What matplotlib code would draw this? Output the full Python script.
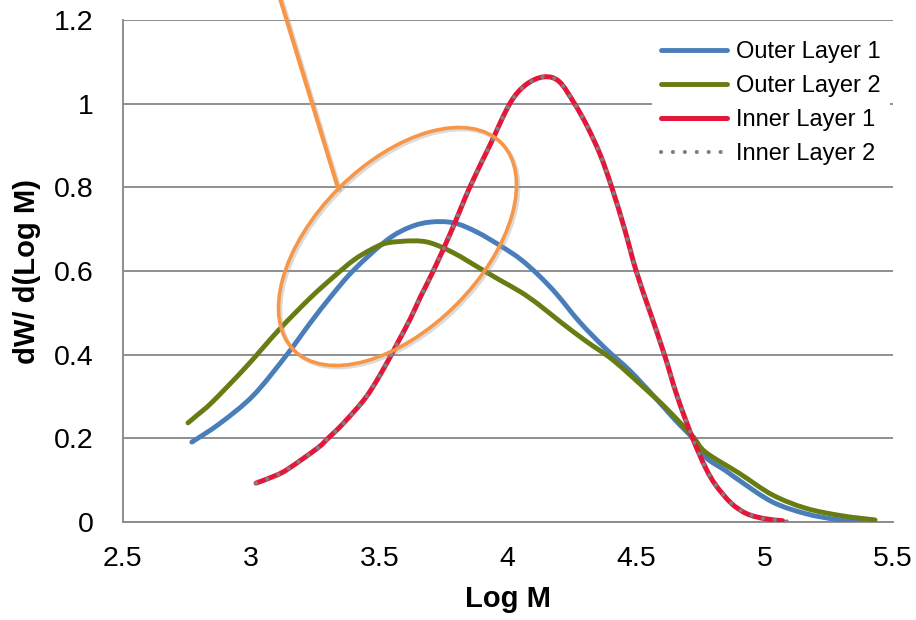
import numpy as np
import matplotlib
matplotlib.use('Agg')
import matplotlib.pyplot as plt
from matplotlib.patches import Ellipse, PathPatch
from matplotlib.path import Path
from matplotlib.lines import Line2D
from matplotlib.transforms import Affine2D
import matplotlib.patheffects as pe

plt.rcParams['font.family'] = ['Liberation Sans', 'DejaVu Sans']

# values
x_outer1 = [2.77, 2.88, 3.01, 3.14, 3.23, 3.31, 3.40, 3.53, 3.62, 3.70, 3.79, 3.88, 3.98, 4.05,
            4.12, 4.19, 4.28, 4.38, 4.475, 4.57, 4.65, 4.72, 4.77, 4.85, 4.90, 5.03, 5.16, 5.28,
            5.38]
y_outer1 = [0.191, 0.236, 0.303, 0.400, 0.475, 0.538, 0.602, 0.674, 0.705, 0.717, 0.715, 0.693,
            0.657, 0.628, 0.590, 0.545, 0.478, 0.415, 0.362, 0.300, 0.245, 0.200, 0.155, 0.122,
            0.100, 0.048, 0.020, 0.006, 0.000]

x_outer2 = [2.755, 2.79, 2.85, 2.98, 3.11, 3.23, 3.32, 3.40, 3.47, 3.53, 3.63, 3.70, 3.79, 3.89,
            3.97, 4.05, 4.12, 4.21, 4.31, 4.41, 4.54, 4.62, 4.72, 4.77, 4.90, 5.03, 5.16, 5.30,
            5.43]
y_outer2 = [0.237, 0.255, 0.287, 0.370, 0.460, 0.535, 0.585, 0.626, 0.652, 0.667, 0.672, 0.667,
            0.643, 0.607, 0.578, 0.550, 0.520, 0.476, 0.430, 0.387, 0.316, 0.270, 0.205, 0.167,
            0.117, 0.065, 0.033, 0.015, 0.005]

x_inner1 = [3.02, 3.10, 3.15, 3.26, 3.30, 3.36, 3.45, 3.52, 3.57, 3.62, 3.66, 3.71, 3.78, 3.852,
            3.93, 4.008, 4.07, 4.14, 4.20, 4.26, 4.31, 4.36, 4.405, 4.455, 4.50, 4.555, 4.61,
            4.66, 4.72, 4.77, 4.81, 4.87, 4.93, 5.00, 5.07]
y_inner1 = [0.093, 0.112, 0.129, 0.177, 0.200, 0.236, 0.300, 0.370, 0.427, 0.485, 0.538, 0.600,
            0.695, 0.800, 0.900, 1.000, 1.045, 1.064, 1.053, 1.000, 0.945, 0.878, 0.800, 0.700,
            0.600, 0.500, 0.400, 0.300, 0.200, 0.130, 0.088, 0.045, 0.020, 0.008, 0.003]

x_inner2 = [3.02, 3.10, 3.15, 3.26, 3.30, 3.36, 3.45, 3.52, 3.57, 3.62, 3.66, 3.71, 3.78, 3.852,
            3.93, 4.008, 4.07, 4.14, 4.20, 4.26, 4.31, 4.36, 4.405, 4.455, 4.50, 4.555, 4.61,
            4.66, 4.72, 4.77, 4.81, 4.87, 4.93, 5.00, 5.07, 5.10]
y_inner2 = [0.093, 0.112, 0.129, 0.177, 0.200, 0.236, 0.300, 0.370, 0.427, 0.485, 0.538, 0.600,
            0.695, 0.800, 0.900, 1.000, 1.045, 1.064, 1.053, 1.000, 0.945, 0.878, 0.800, 0.700,
            0.600, 0.500, 0.400, 0.300, 0.200, 0.130, 0.088, 0.045, 0.020, 0.008, 0.003, 0.000]

x_ticks = [2.5, 3, 3.5, 4, 4.5, 5, 5.5]
x_ticklabels = ['2.5', '3', '3.5', '4', '4.5', '5', '5.5']
y_ticks = [0, 0.2, 0.4, 0.6, 0.8, 1, 1.2]
y_ticklabels = ['0', '0.2', '0.4', '0.6', '0.8', '1', '1.2']


def smooth_path(xs, ys):
    # Excel-style smoothed line: cubic Bezier through every data point
    p = np.column_stack([xs, ys])
    pts = np.vstack([p[0], p, p[-1]])
    verts = [p[0]]
    codes = [Path.MOVETO]
    for i in range(1, len(pts) - 2):
        p0, p1, p2, p3 = pts[i - 1], pts[i], pts[i + 1], pts[i + 2]
        verts += [p1 + (p2 - p0) / 6, p2 - (p3 - p1) / 6, p2]
        codes += [Path.CURVE4] * 3
    return Path(verts, codes)


W, H = 916, 620
fig = plt.figure(figsize=(W / 100, H / 100), dpi=100)
ax = fig.add_axes([122.5 / W, 1 - 522 / H, (893 - 122.5) / W, (522 - 20) / H])

grid_c = '#878787'
ax.set_xlim(2.5, 5.5)
ax.set_ylim(0, 1.2)
ax.set_yticks(y_ticks)
ax.set_yticklabels(y_ticklabels)
ax.set_xticks(x_ticks)
ax.set_xticklabels(x_ticklabels)
ax.yaxis.grid(True, color=grid_c, lw=1.3)
ax.set_axisbelow(True)
for s in ['top', 'right']:
    ax.spines[s].set_visible(False)
for s in ['left', 'bottom']:
    ax.spines[s].set_color(grid_c)
    ax.spines[s].set_linewidth(1.3)
ax.tick_params(axis='both', length=0, labelsize=20.5, colors='black')
ax.tick_params(axis='y', pad=21)
ax.tick_params(axis='x', pad=17.5)
ax.set_xlabel('Log M', fontsize=21, fontweight='bold', labelpad=9)
ax.set_ylabel('dW/ d(Log M)', fontsize=21, fontweight='bold', labelpad=9)

series = [
    (x_outer1, y_outer1, '#4a7ebb', 'Outer Layer 1', '-', 3.5, 3),
    (x_outer2, y_outer2, '#677c12', 'Outer Layer 2', '-', 3.5, 3),
    (x_inner1, y_inner1, '#e3173a', 'Inner Layer 1', '-', 3.6, 4),
    (x_inner2, y_inner2, '#7f7f7f', 'Inner Layer 2', (0, (0.01, 2.85)), 3.0, 5),
]
handles = []
for xs, ys, c, name, ls, lw, z in series:
    patch = PathPatch(smooth_path(xs, ys), fill=False, edgecolor=c, lw=lw, linestyle=ls,
                      capstyle='round', joinstyle='round', zorder=z)
    ax.add_patch(patch)
    handles.append(Line2D([], [], color=c, lw=lw, linestyle=ls, solid_capstyle='round',
                          dash_capstyle='round', label=name))

leg = ax.legend(handles=handles, loc='upper right', bbox_to_anchor=(0.9956, 0.976), fontsize=17,
                frameon=True, handlelength=2.8, handletextpad=0.35, labelspacing=0.5,
                borderpad=0.4, borderaxespad=0)
leg.get_frame().set_facecolor('white')
leg.get_frame().set_edgecolor('none')
leg.get_frame().set_alpha(1)

# orange callout, drawn in figure pixels (y up)
px = Affine2D().scale(1 / W, 1 / H) + fig.transFigure
shadow = [pe.SimpleLineShadow(offset=(1.5, -1.5), shadow_color='#999999', alpha=0.35), pe.Normal()]
ell = Ellipse((397.5, H - 246.5), 2 * 146.6, 2 * 82.7, angle=45, transform=px, fill=False,
              edgecolor='#f79646', lw=2.6, zorder=6, path_effects=shadow)
fig.add_artist(ell)
ptr = Line2D([279, 338], [H + 5, H - 188], transform=px, color='#f79646', lw=3.0,
             solid_capstyle='round', zorder=6, path_effects=shadow)
fig.add_artist(ptr)

fig.savefig('out.png', dpi=100)
